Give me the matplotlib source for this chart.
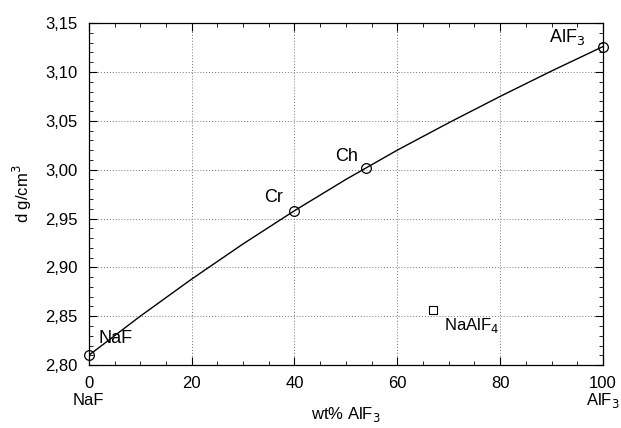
import matplotlib
matplotlib.use("Agg")
import matplotlib.pyplot as plt
from matplotlib.ticker import MultipleLocator, FuncFormatter
from matplotlib.transforms import blended_transform_factory

plt.rcParams['font.family'] = ['Liberation Sans', 'DejaVu Sans']

# density curve, wt% AlF3 vs d (g/cm3)
curve_x = [0, 10, 20, 30, 40, 50, 60, 70, 80, 90, 100]
curve_y = [2.810, 2.850, 2.888, 2.924, 2.958, 2.990, 3.020, 3.048, 3.075, 3.101, 3.126]

# marked compositions
pts_x = [0, 40, 54, 100]
pts_y = [2.810, 2.958, 3.002, 3.126]
pts_lbl = ["NaF", "Cr", "Ch", "AlF$_3$"]
lbl_pos = [(1.8, 2.823), (34.0, 2.967), (48.0, 3.009), (89.5, 3.131)]

# NaAlF4 point
sq_x = [67]
sq_y = [2.856]

fig = plt.figure(figsize=(6.21, 4.28), dpi=100)
ax = fig.add_axes([0.143, 0.147, 0.828, 0.799])

ax.plot(curve_x, curve_y, color="black", lw=1.0)
ax.plot(pts_x, pts_y, "o", mfc="none", mec="black", ms=7, mew=0.9, clip_on=False, zorder=5)
ax.plot(sq_x, sq_y, "s", mfc="none", mec="black", ms=6, mew=0.8)

for (tx, ty), s in zip(lbl_pos, pts_lbl):
    ax.text(tx, ty, s, fontsize=13)
ax.text(69, 2.836, "NaAlF$_4$", fontsize=12)

ax.set_xlim(0, 100)
ax.set_ylim(2.80, 3.15)
ax.xaxis.set_major_locator(MultipleLocator(20))
ax.xaxis.set_minor_locator(MultipleLocator(5))
ax.yaxis.set_major_locator(MultipleLocator(0.05))
ax.yaxis.set_minor_locator(MultipleLocator(0.01))
ax.yaxis.set_major_formatter(FuncFormatter(lambda v, p: f"{v:.2f}".replace(".", ",")))
ax.tick_params(which="both", direction="in", top=True, right=True, labelsize=12)
ax.tick_params(which="major", length=6, width=0.8, pad=8)
ax.tick_params(which="minor", length=3, width=0.6)
ax.grid(True, which="major", ls=(0, (1, 2)), color="#777777", lw=0.7)

for sp in ax.spines.values():
    sp.set_linewidth(0.9)

tr = blended_transform_factory(ax.transData, ax.transAxes)
ax.text(0, -0.105, "NaF", transform=tr, ha="center", va="center", fontsize=12)
ax.text(100, -0.105, "AlF$_3$", transform=tr, ha="center", va="center", fontsize=12)

ax.set_xlabel("wt% AlF$_3$", fontsize=12, labelpad=10)
ax.set_ylabel("d g/cm$^3$", fontsize=12, labelpad=8)

fig.savefig("out.png", dpi=100)
